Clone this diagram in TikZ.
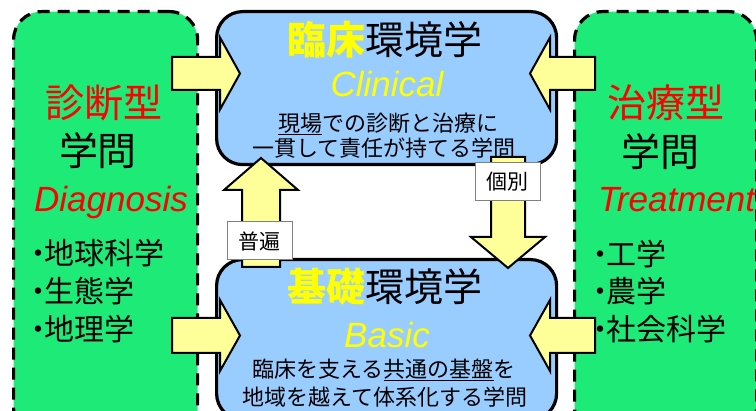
\documentclass[tikz,border=0pt]{standalone}
\usepackage{fontspec}
\setmainfont{Liberation Sans}
\newfontfamily\jp{Noto Sans CJK JP}
\definecolor{grn}{RGB}{30,234,120}
\definecolor{blu}{RGB}{153,204,255}
\definecolor{ylw}{RGB}{255,255,153}
\definecolor{ytx}{RGB}{255,255,0}
\definecolor{rtx}{RGB}{255,0,0}
\definecolor{gry}{RGB}{128,128,128}
\tikzset{
  greenbox/.style={draw=black, fill=grn, line width=3.2pt, dash pattern=on 12pt off 8pt, rounded corners=28pt, inner sep=0},
  bluebox/.style={draw=black, fill=blu, line width=3.2pt, rounded corners=26pt, inner sep=0},
  fatarrow/.style={draw=black, fill=ylw, line width=2pt, line join=miter},
  labelbox/.style={draw=gry, fill=white, line width=1pt, inner sep=0, minimum width=65pt, minimum height=38pt, font=\jp\fontsize{21}{21}\selectfont},
  jptitle/.style={inner sep=0, font=\jp\fontsize{39}{39}\selectfont},
  jpbody/.style={inner sep=0, font=\jp\fontsize{22}{22}\selectfont},
  jplist/.style={inner sep=0, anchor=west, font=\jp\fontsize{30}{30}\selectfont},
  latit/.style={inner sep=0, anchor=base, font=\fontsize{35}{35}\selectfont\itshape},
}
\newcommand{\bul}{\makebox[0.4em][c]{・}}
\begin{document}
\begin{tikzpicture}[x=1pt,y=-1pt]
\useasboundingbox (0,0) rectangle (756,411);
\clip (0,0) rectangle (756,411);
% green side boxes
\node[greenbox, anchor=north west, minimum width=184pt, minimum height=425pt] (diag) at (12,10) {};
\node[greenbox, anchor=north west, minimum width=182pt, minimum height=425pt] (treat) at (573,10) {};
% blue boxes
\node[bluebox, anchor=north west, minimum width=340pt, minimum height=153pt] (clin) at (215,10) {};
\node[bluebox, anchor=north west, minimum width=340pt, minimum height=160pt] (basic) at (215,258) {};
% horizontal arrows
\draw[fatarrow] (172,57)--(220,57)--(220,37.5)--(240,73.5)--(220,109.5)--(220,90)--(172,90)--cycle;
\draw[fatarrow] (172,318)--(220,318)--(220,300)--(240,335.5)--(220,371)--(220,353)--(172,353)--cycle;
\draw[fatarrow] (595,57)--(550,57)--(550,37.5)--(530,73.5)--(550,109.5)--(550,90)--(595,90)--cycle;
\draw[fatarrow] (595,318)--(550,318)--(550,300)--(530,335.5)--(550,371)--(550,353)--(595,353)--cycle;
% vertical arrows
\draw[fatarrow] (242,267)--(242,190)--(224,190)--(261,158)--(298,190)--(280,190)--(280,267)--cycle;
\draw[fatarrow] (491,157)--(525,157)--(525,237)--(545,237)--(508,268)--(471,237)--(491,237)--cycle;
% label boxes
\node[labelbox] (fuhen) at (259.5,241) {普遍};
\node[labelbox] (kobetsu) at (507.5,181.5) {個別};
% top box text
\node[jptitle] (ct) at (385,40) {\textcolor{ytx}{\bfseries 臨床}環境学};
\node[latit, text=ytx] (ce) at (387,97) {Clinical};
\node[jpbody] (c1) at (388,124) {\underline{現場}での診断と治療に};
\node[jpbody] (c2) at (384,148) {一貫して責任が持てる学問};
% bottom box text
\node[jptitle] (bt) at (385,287) {\textcolor{ytx}{\bfseries 基礎}環境学};
\node[latit, text=ytx] (be) at (387,348) {Basic};
\node[jpbody] (b1) at (384,370) {臨床を支える\underline{共通の基盤}を};
\node[jpbody] (b2) at (385,397) {地域を越えて体系化する学問};
% left column
\node[jptitle, text=rtx] (lt) at (104,103) {診断型};
\node[jptitle] (lg) at (98,151) {学問};
\node[latit, text=rtx] (le) at (111,212) {Diagnosis};
\node[jplist] (l1) at (32,253) {\bul 地球科学};
\node[jplist] (l2) at (32,291) {\bul 生態学};
\node[jplist] (l3) at (32,329) {\bul 地理学};
% right column
\node[jptitle, text=rtx] (rt) at (666,103) {治療型};
\node[jptitle] (rg) at (660,152) {学問};
\node[latit, text=rtx, anchor=base west] (re) at (598,212) {Treatment};
\node[jplist] (r1) at (594,254) {\bul 工学};
\node[jplist] (r2) at (594,291) {\bul 農学};
\node[jplist] (r3) at (594,329) {\bul 社会科学};
\end{tikzpicture}
\end{document}
